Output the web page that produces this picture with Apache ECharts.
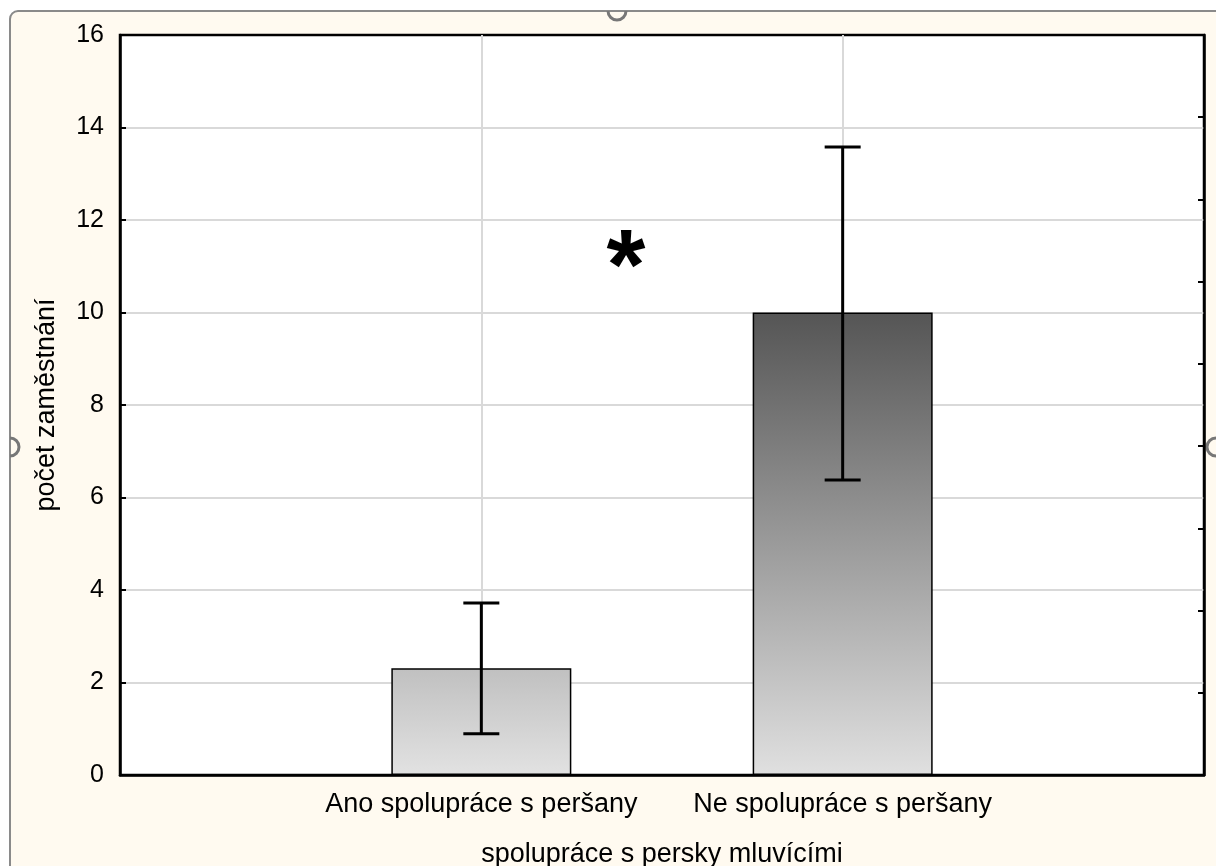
<!DOCTYPE html>
<html>
<head>
<meta charset="utf-8">
<script src="https://cdn.jsdelivr.net/npm/echarts@6/dist/echarts.min.js"></script>
<style>
  html, body { margin: 0; padding: 0; background: #fff; }
  #chart { width: 1216px; height: 866px; }
</style>
</head>
<body>
<div id="chart"></div>
<script>
// data
const categories = ['Ano spolupráce s peršany', 'Ne spolupráce s peršany']
const catPositions = [1, 2]
const means = [2.31, 10.0]
const errLow = [0.89, 6.38]
const errHigh = [3.72, 13.58]
const yTicks = [0, 2, 4, 6, 8, 10, 12, 14, 16]
const starPos = [1.4, 11.3]

const barColors = [['#c0c0c0', '#e2e2e2'], ['#555555', '#e0e0e0']]
const font = '"Liberation Sans", Arial, sans-serif'

const chart = echarts.init(document.getElementById('chart'))

const barData = catPositions.map((x, i) => ({
  value: [x, means[i]],
  itemStyle: {
    color: new echarts.graphic.LinearGradient(0, 0, 0, 1, [
      { offset: 0, color: barColors[i][0] },
      { offset: 1, color: barColors[i][1] }
    ])
  }
}))

const errData = catPositions.map((x, i) => [x, errLow[i], errHigh[i]])

function renderError(params, api) {
  const x = api.value(0)
  const lo = api.coord([x, api.value(1)])
  const hi = api.coord([x, api.value(2)])
  const half = 18
  const style = { stroke: '#000', lineWidth: 3 }
  return {
    type: 'group',
    children: [
      { type: 'line', shape: { x1: hi[0], y1: hi[1], x2: lo[0], y2: lo[1] }, style },
      { type: 'line', shape: { x1: hi[0] - half, y1: hi[1], x2: hi[0] + half, y2: hi[1] }, style },
      { type: 'line', shape: { x1: lo[0] - half, y1: lo[1], x2: lo[0] + half, y2: lo[1] }, style }
    ]
  }
}

const option = {
  backgroundColor: '#fff',
  animation: false,
  graphic: [
    {
      type: 'rect', z: -100,
      shape: { x: 10, y: 11, width: 1230, height: 900, r: [8, 0, 0, 0] },
      style: { fill: '#fffaf0', stroke: '#8a8a8a', lineWidth: 2 }
    },
    {
      type: 'arc', z: -90,
      shape: { cx: 617, cy: 11, r: 9, startAngle: 0, endAngle: Math.PI },
      style: { stroke: '#777', lineWidth: 3, fill: null }
    },
    {
      type: 'arc', z: -90,
      shape: { cx: 10, cy: 447, r: 9, startAngle: -Math.PI / 2, endAngle: Math.PI / 2 },
      style: { stroke: '#777', lineWidth: 3, fill: null }
    },
    {
      type: 'arc', z: -90,
      shape: { cx: 1216, cy: 447, r: 9, startAngle: Math.PI / 2, endAngle: Math.PI * 1.5 },
      style: { stroke: '#777', lineWidth: 3, fill: null }
    }
  ],
  grid: {
    left: 120, right: 12, top: 35, bottom: 91,
    containLabel: false,
    outerBoundsMode: 'none',
    show: true,
    backgroundColor: '#fff',
    borderColor: '#000',
    borderWidth: 2.5
  },
  xAxis: {
    type: 'value',
    min: 0, max: 3, interval: 1,
    name: 'spolupráce s persky mluvícími',
    nameLocation: 'middle',
    nameGap: 66,
    nameTextStyle: { color: '#000', fontFamily: font, fontSize: 27 },
    axisLine: { show: true, lineStyle: { color: '#000', width: 2.5 } },
    axisTick: { show: true, inside: true, length: 5, customValues: catPositions, lineStyle: { color: '#000', width: 2 } },
    axisLabel: {
      customValues: catPositions,
      margin: 16,
      color: '#000', fontFamily: font, fontSize: 27,
      formatter: v => categories[catPositions.indexOf(v)] || ''
    },
    splitLine: { show: true, lineStyle: { color: '#d9d9d9', width: 2 } }
  },
  yAxis: [
    {
      type: 'value',
      position: 'left',
      min: yTicks[0], max: yTicks[yTicks.length - 1], interval: 2,
      name: 'počet zaměstnání',
      nameLocation: 'middle',
      nameGap: 60,
      nameTextStyle: { color: '#000', fontFamily: font, fontSize: 27 },
      axisLine: { show: true, lineStyle: { color: '#000', width: 2.5 } },
      axisTick: { show: true, inside: true, length: 6, lineStyle: { color: '#000', width: 2 } },
      axisLabel: { color: '#000', fontFamily: font, fontSize: 25, margin: 16 },
      splitLine: { show: true, showMinLine: false, showMaxLine: false, lineStyle: { color: '#d9d9d9', width: 2 } }
    },
    {
      type: 'value',
      position: 'right',
      min: 0, max: 9, interval: 1,
      axisLine: { show: true, lineStyle: { color: '#000', width: 2.5 } },
      axisTick: { show: true, inside: true, length: 6, lineStyle: { color: '#000', width: 2 } },
      axisLabel: { show: false },
      splitLine: { show: false }
    }
  ],
  series: [
    {
      type: 'bar',
      data: barData,
      barWidth: 180,
      itemStyle: { borderColor: '#000', borderWidth: 1.5 }
    },
    {
      type: 'custom',
      renderItem: renderError,
      encode: { x: 0, y: [1, 2] },
      data: errData,
      z: 5
    },
    {
      type: 'scatter',
      symbolSize: 1,
      itemStyle: { color: 'rgba(0,0,0,0)', opacity: 1 },
      data: [starPos],
      label: {
        show: true,
        position: 'top',
        distance: 0,
        formatter: '*',
        color: '#000',
        textBorderWidth: 0,
        fontFamily: font,
        fontWeight: 'bold',
        fontSize: 100,
        offset: [0, 70]
      }
    }
  ]
}

chart.setOption(option)
</script>
</body>
</html>
